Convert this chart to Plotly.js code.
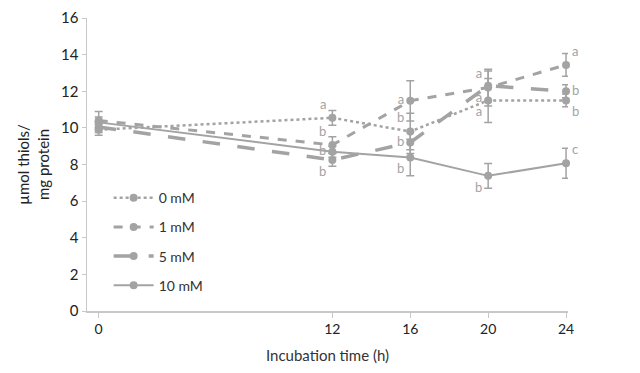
<!DOCTYPE html>
<html>
<head>
<meta charset="utf-8">
<script src="https://cdn.plot.ly/plotly-3.0.1.min.js"></script>
<style>html,body{margin:0;padding:0;background:#fff;}#chart{width:640px;height:373px;}</style>
</head>
<body>
<div id="chart"></div>
<script>
const hours = [0, 12, 16, 20, 24];
const seriesNames = ["0 mM", "1 mM", "5 mM", "10 mM"];
const mM0 = [9.9, 10.55, 9.8, 11.5, 11.5];
const mM0err = [0.3, 0.4, 1.0, 1.2, 0.35];
const mM0letters = ["", "a", "b", "a", "b"];
const mM1 = [10.4, 9.07, 11.48, 12.2, 13.44];
const mM1err = [0.5, 0.45, 1.1, 1.0, 0.62];
const mM1letters = ["", "b", "a", "a", "a"];
const mM5 = [10.05, 8.25, 9.2, 12.3, 12.0];
const mM5err = [0.3, 0.35, 0.6, 0.8, 0.35];
const mM5letters = ["", "b", "b", "a", "b"];
const mM10 = [10.3, 8.7, 8.38, 7.38, 8.07];
const mM10err = [0.3, 0.3, 1.0, 0.68, 0.82];
const mM10letters = ["", "b", "b", "b", "c"];

const gray = "#a3a3a3";
const pos0 = ["top left", "top left", "top left", "bottom left", "bottom right"];
const pos1 = ["top left", "top left", "middle left", "top left", "top right"];
const pos5 = ["top left", "bottom left", "middle left", "bottom left", "middle right"];
const pos10 = ["top left", "middle left", "bottom left", "bottom left", "top right"];

function tr(name, y, err, letters, dash, width, tpos, grp) {
  return {
    x: hours, y: y, name: name, type: "scatter", mode: "lines+markers+text",
    text: letters, textposition: tpos, cliponaxis: false,
    textfont: {family: "Lato, sans-serif", size: 13, color: gray},
    line: {color: gray, dash: dash, width: width},
    marker: {color: gray, size: 8, symbol: "circle"},
    error_y: {type: "data", array: err, visible: true, color: gray, thickness: 1.5, width: 4},
    legendgroup: grp
  };
}

const data = [
  tr(seriesNames[0], mM0, mM0err, mM0letters, "dot", 2.5, pos0, "g0"),
  tr(seriesNames[1], mM1, mM1err, mM1letters, "dash", 3, pos1, "g1"),
  tr(seriesNames[2], mM5, mM5err, mM5letters, "longdash", 3.5, pos5, "g2"),
  tr(seriesNames[3], mM10, mM10err, mM10letters, "solid", 2, pos10, "g3")
];

const layout = {
  width: 640, height: 373,
  margin: {l: 87, r: 72, t: 18, b: 62},
  paper_bgcolor: "#fff", plot_bgcolor: "#fff",
  showlegend: true,
  legend: {x: 0.045, y: 0.44, xanchor: "left", yanchor: "top", bgcolor: "rgba(0,0,0,0)",
           font: {family: "Lato, sans-serif", size: 14, color: "#333"},
           tracegroupgap: 8, itemwidth: 40},
  xaxis: {
    range: [-0.6, 24.1], tickvals: hours, ticktext: hours.map(String),
    showgrid: false, zeroline: false, showline: true, linecolor: "#c8c8c8", linewidth: 1.5,
    ticks: "outside", ticklen: 5, tickcolor: "#c8c8c8",
    tickfont: {family: "Lato, sans-serif", size: 14, color: "#222"},
    title: {text: "Incubation time (h)", font: {family: "Lato, sans-serif", size: 15, color: "#333"}, standoff: 14}
  },
  yaxis: {
    range: [0, 16], dtick: 2,
    showgrid: false, zeroline: false, showline: true, linecolor: "#c8c8c8", linewidth: 1.5,
    ticks: "outside", ticklen: 4, tickcolor: "#c8c8c8",
    tickfont: {family: "Lato, sans-serif", size: 15, color: "#222"},
    title: {text: "µmol thiols/<br>mg protein", font: {family: "Lato, sans-serif", size: 15, color: "#222"}, standoff: 8}
  }
};

Plotly.newPlot("chart", data, layout, {displayModeBar: false, staticPlot: true});
</script>
</body>
</html>
